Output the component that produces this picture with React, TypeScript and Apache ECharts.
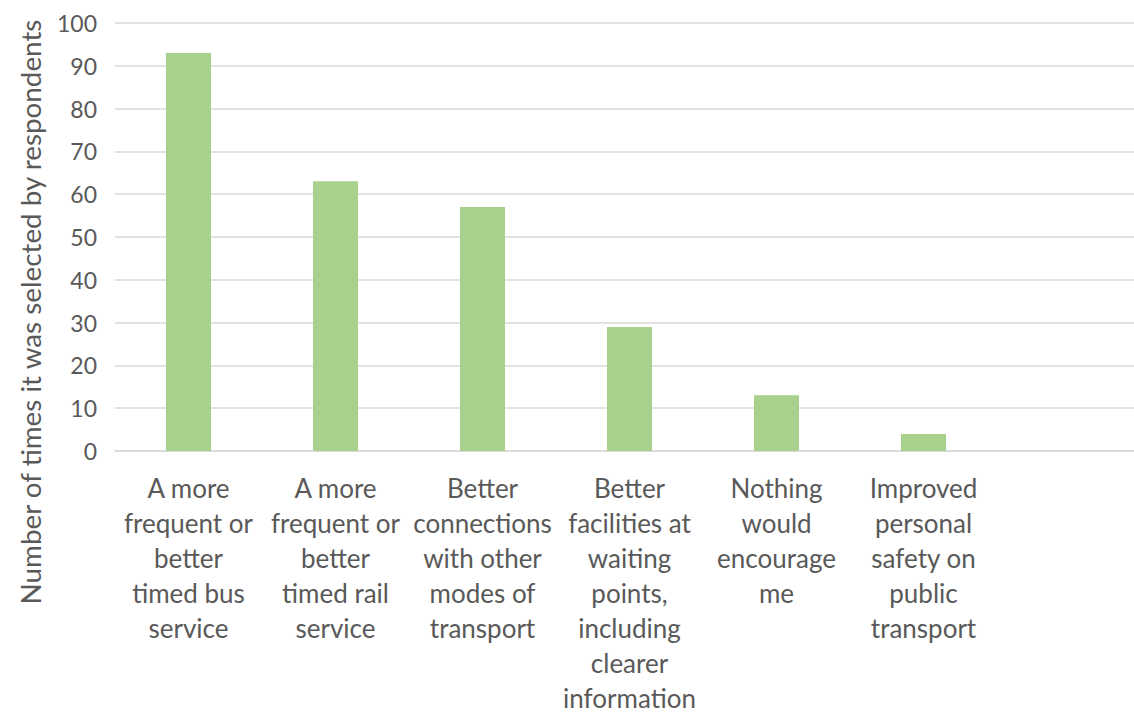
import React, { useEffect, useRef } from "react";
import * as echarts from "echarts";

const categories = [
  "A more\nfrequent or\nbetter\ntimed bus\nservice",
  "A more\nfrequent or\nbetter\ntimed rail\nservice",
  "Better\nconnections\nwith other\nmodes of\ntransport",
  "Better\nfacilities at\nwaiting\npoints,\nincluding\nclearer\ninformation",
  "Nothing\nwould\nencourage\nme",
  "Improved\npersonal\nsafety on\npublic\ntransport",
  "",
];
const values = [93, 63, 57, 29, 13, 4, null];
const yAxisTitle = "Number of times it was selected by respondents";

export default function App() {
  const ref = useRef<HTMLDivElement>(null);
  useEffect(() => {
    const chart = echarts.init(ref.current!, null, { renderer: "svg" });
    const font = "Lato, 'Open Sans', sans-serif";
    chart.setOption({
      animation: false,
      textStyle: { fontFamily: font },
      grid: { left: 115, right: -10, top: 23, bottom: 264, outerBoundsMode: "none", containLabel: false },
      xAxis: {
        type: "category",
        data: categories,
        axisTick: { show: false },
        axisLine: { lineStyle: { color: "#D9D9D9", width: 1.5 } },
        axisLabel: {
          interval: 0,
          color: "#595959",
          fontSize: 26,
          lineHeight: 35,
          margin: 19,
          fontFamily: font,
        },
      },
      yAxis: {
        type: "value",
        min: 0,
        max: 100,
        interval: 10,
        axisLine: { show: false },
        axisTick: { show: false },
        splitLine: { lineStyle: { color: "#D9D9D9", width: 1.5 } },
        axisLabel: { color: "#595959", fontSize: 23, margin: 18, fontFamily: font },
      },
      graphic: [
        {
          type: "text",
          x: 30,
          y: 312,
          rotation: Math.PI / 2,
          style: {
            text: yAxisTitle,
            fill: "#595959",
            fontSize: 27.8,
            fontFamily: font,
            align: "center",
            verticalAlign: "middle",
          },
        },
      ],
      series: [
        {
          type: "bar",
          data: values,
          barWidth: 45,
          itemStyle: { color: "#A9D18E" },
        },
      ],
    });
    return () => chart.dispose();
  }, []);
  return (
    <div
      ref={ref}
      style={{ position: "fixed", left: 0, top: 0, width: 1134, height: 715, background: "#fff" }}
    />
  );
}
